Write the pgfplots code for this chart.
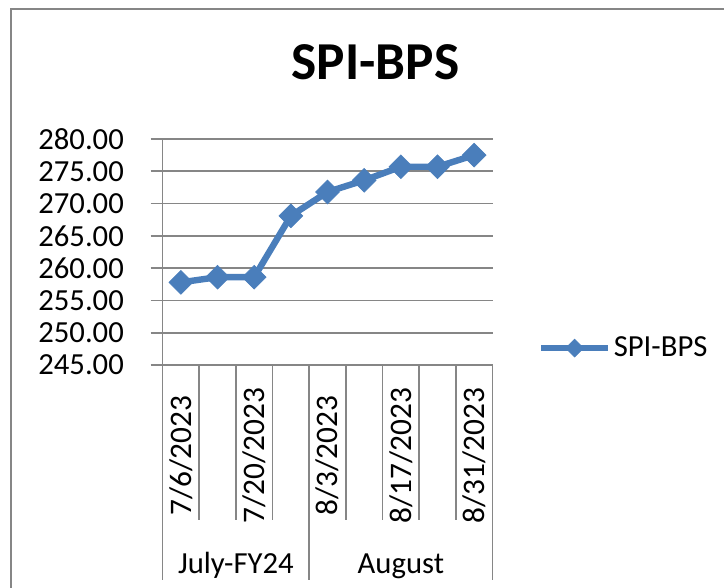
\documentclass[border=0pt]{standalone}
\usepackage{pgfplots}
\pgfplotsset{compat=1.18}
\usepackage{fontspec}
\setmainfont{Carlito}
\definecolor{serblue}{HTML}{4A7EBB}
\definecolor{gridgray}{HTML}{868686}
\begin{document}
\begin{tikzpicture}
\useasboundingbox (0pt,0pt) rectangle (543pt,441pt);
\clip (0pt,0pt) rectangle (543pt,441pt);
% image px (X,Y) -> (0.75X pt, 0.75(588-Y) pt)
\draw[gridgray, line width=1.5pt] (8.25pt,-10pt) -- (8.25pt,433.9pt) -- (560pt,433.9pt);
\node[anchor=base, inner sep=0pt, font=\fontsize{40}{48}\selectfont\bfseries] at (281.6pt,381pt) {SPI-BPS};
\begin{axis}[
  at={(121.9pt,167.25pt)}, anchor=south west,
  scale only axis, width=247.5pt, height=169.5pt,
  xmin=0.5, xmax=9.5, ymin=245, ymax=280,
  clip=false,
  axis x line*=bottom, axis y line*=left,
  axis line style={gridgray, line width=1.3pt},
  ymajorgrids, grid style={gridgray, line width=1.3pt},
  ytick={245,250,...,280},
  tick align=outside, major tick length=9pt,
  ytick style={gridgray, line width=1.3pt},
  xtick style={draw=none},
  xtick={1,...,9},
  xticklabels={7/6/2023,,7/20/2023,,8/3/2023,,8/17/2023,,8/31/2023},
  xticklabel style={yshift=-59pt, rotate=90, anchor=center, font=\fontsize{23.5}{27}\selectfont},
  yticklabel style={font=\fontsize{23}{27}\selectfont, anchor=east, xshift=-16.5pt},
  /pgf/number format/assume math mode=true,
  yticklabel={\pgfmathprintnumber[fixed,fixed zerofill,precision=2]{\tick}},
  legend style={at={(1.138,0.075)}, anchor=west, draw=none, fill=none,
    font=\fontsize{23}{27}\selectfont, inner sep=0pt, outer sep=0pt},
  legend image code/.code={\draw[#1, mark repeat=2, mark phase=2, mark options={rotate=45, fill=serblue, line width=0.5pt, scale=0.75}] plot coordinates {(0pt,0pt) (25pt,0pt) (50pt,0pt)};},
]
\addplot[serblue, line width=4.8pt, mark=square*, mark size=6.3pt,
  mark options={rotate=45, fill=serblue, line width=0.5pt}]
  coordinates {(1,257.8) (2,258.6) (3,258.6) (4,268.1) (5,271.8) (6,273.6) (7,275.7) (8,275.7) (9,277.5)};
\addlegendentry{SPI-BPS}
\pgfplotsinvokeforeach{1.5,2.5,3.5,5.5,6.5,7.5,8.5}{
  \draw[gridgray, line width=1.3pt] (axis cs:#1,245) -- ++(0pt,-116.25pt);
}
\pgfplotsinvokeforeach{0.5,4.5,9.5}{
  \draw[gridgray, line width=1.3pt] (axis cs:#1,245) -- ++(0pt,-161.25pt);
}
\node[anchor=base, font=\fontsize{23}{27}\selectfont] at ([yshift=-156pt]axis cs:2.5,245) {July-FY24};
\node[anchor=base, font=\fontsize{23}{27}\selectfont] at ([yshift=-156pt]axis cs:7,245) {August};
\end{axis}
\end{tikzpicture}
\end{document}
